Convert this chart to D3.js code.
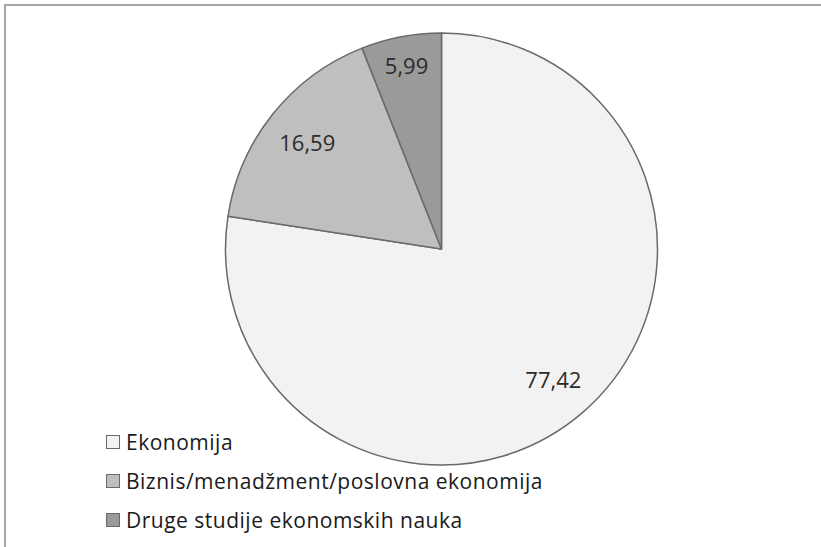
<!DOCTYPE html>
<html>
<head>
<meta charset="utf-8">
<script src="https://cdn.jsdelivr.net/npm/d3@7"></script>
<style>
  html, body { margin: 0; padding: 0; background: #fff; }
  svg { display: block; }
</style>
</head>
<body>
<svg id="chart" width="821" height="547"></svg>
<script>
const categories = ["Ekonomija", "Biznis/menadžment/poslovna ekonomija", "Druge studije ekonomskih nauka"];
const values = [77.42, 16.59, 5.99];
const valueLabels = ["77,42", "16,59", "5,99"];
const colors = ["#f2f2f2", "#bfbfbf", "#9a9a9a"];

const svg = d3.select("#chart");
const W = 821, H = 547;

// chart area frame
svg.append("rect")
  .attr("x", 5).attr("y", 5)
  .attr("width", W).attr("height", H)
  .attr("fill", "#fff")
  .attr("stroke", "#a6a6a6")
  .attr("stroke-width", 2);

const cx = 441.5, cy = 249, R = 216;
const data = categories.map((c, i) => ({ name: c, value: values[i], label: valueLabels[i], color: colors[i] }));

const pie = d3.pie().value(d => d.value).sort(null);
const arcs = pie(data);
const arc = d3.arc().innerRadius(0).outerRadius(R);

const g = svg.append("g").attr("transform", `translate(${cx},${cy})`);

g.selectAll("path")
  .data(arcs)
  .join("path")
  .attr("d", arc)
  .attr("fill", d => d.data.color)
  .attr("stroke", "#6a6a6a")
  .attr("stroke-width", 1.5)
  .attr("stroke-linejoin", "round");

// data labels placed inside each slice; narrow slices sit closer to the rim
const labelFrac = d => (d.endAngle - d.startAngle) < 0.6 ? 0.865 : 0.795;
g.selectAll("text.val")
  .data(arcs)
  .join("text")
  .attr("class", "val")
  .attr("transform", d => {
    const r = R * labelFrac(d);
    const a = (d.startAngle + d.endAngle) / 2;
    return `translate(${r * Math.sin(a)},${-r * Math.cos(a)})`;
  })
  .attr("text-anchor", "middle")
  .attr("dominant-baseline", "central")
  .attr("font-family", "'Open Sans', 'Liberation Sans', sans-serif")
  .attr("font-size", 22)
  .attr("fill", "#2b2b2b")
  .text(d => d.data.label);

// legend
const legend = svg.append("g").attr("transform", "translate(106,442)");
const rows = legend.selectAll("g")
  .data(data)
  .join("g")
  .attr("transform", (d, i) => `translate(0,${i * 39})`);

rows.append("rect")
  .attr("x", 0.5).attr("y", -6.5)
  .attr("width", 13).attr("height", 13)
  .attr("fill", d => d.color)
  .attr("stroke", "#6a6a6a")
  .attr("stroke-width", 1);

rows.append("text")
  .attr("x", 20)
  .attr("y", 0)
  .attr("dominant-baseline", "central")
  .attr("font-family", "'Open Sans', 'Liberation Sans', sans-serif")
  .attr("font-size", 21)
  .attr("letter-spacing", 0.5)
  .attr("fill", "#1a1a1a")
  .text(d => d.name);
</script>
</body>
</html>
